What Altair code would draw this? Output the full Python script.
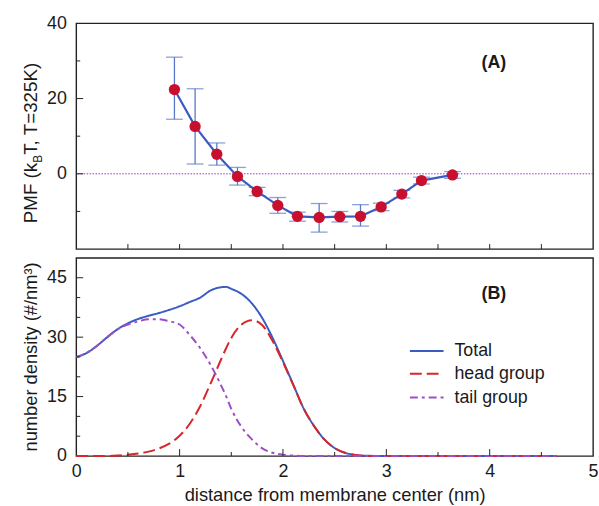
import altair as alt
import pandas as pd

FONT = "Liberation Sans"
TXT = "#1a1a1a"
BLUE = "#3a5cc0"
ERR = "#5b77c9"
RED = "#c8102e"
ZERO_PURPLE = "#9a30c8"
HEAD_RED = "#d8262a"
TAIL_PURPLE = "#9b4fc6"

# ---------------- Panel A: PMF ----------------
pmf_x = [0.95, 1.15, 1.36, 1.56, 1.75, 1.95, 2.14, 2.35, 2.55, 2.75, 2.95, 3.15, 3.34, 3.64]
pmf_y = [22.4, 12.6, 5.2, -0.7, -4.7, -8.4, -11.3, -11.6, -11.4, -11.3, -8.8, -5.4, -1.8, -0.3]
pmf_lo = [14.5, 2.6, 2.3, -3.0, -5.8, -10.5, -12.6, -15.5, -12.8, -13.9, -9.8, -6.4, -2.7, -1.2]
pmf_hi = [31.0, 22.6, 8.2, 1.7, -3.6, -6.3, -10.2, -7.9, -10.0, -8.2, -7.8, -4.4, -0.9, 0.6]

yA_labels = [0, 20, 40]
yA_major_ticks = [0, 20]
yA_minor_ticks = [-10, 10, 30]
x_half_ticks = [0.5, 1, 1.5, 2, 2.5, 3, 3.5, 4, 4.5]

# ---------------- Panel B: densities ----------------
dens_x = [0.0, 0.1, 0.2, 0.3, 0.4, 0.5, 0.6, 0.7, 0.8, 0.9, 1.0, 1.1, 1.2, 1.3, 1.4, 1.45,
          1.5, 1.6, 1.7, 1.8, 1.9, 2.0, 2.1, 2.2, 2.3, 2.4, 2.5, 2.6, 2.7, 2.8, 2.9, 3.0,
          3.5, 4.0, 4.65]
total = [25.0, 26.0, 27.8, 30.0, 32.0, 33.5, 34.6, 35.4, 36.1, 36.9, 37.8, 38.9, 40.0, 41.8, 42.6, 42.7,
         42.2, 40.9, 38.5, 34.8, 29.8, 24.0, 18.0, 12.0, 7.6, 4.2, 2.0, 0.8, 0.25, 0.05, 0.0, 0.0,
         0.0, 0.0, 0.0]
head = [0.0, 0.0, 0.0, 0.0, 0.1, 0.3, 0.6, 1.1, 1.9, 3.1, 5.1, 8.2, 12.6, 18.3, 24.3, 27.2,
        29.8, 33.2, 34.3, 33.0, 29.0, 23.7, 17.9, 12.0, 7.6, 4.2, 2.0, 0.8, 0.25, 0.05, 0.0, 0.0,
        0.0, 0.0, 0.0]
tail = [25.0, 26.0, 27.8, 30.0, 32.0, 33.2, 34.0, 34.5, 34.5, 34.0, 33.2, 30.5, 27.2, 23.0, 17.9, 15.1,
        11.9, 7.3, 4.2, 1.9, 0.8, 0.3, 0.1, 0.0, 0.0, 0.0, 0.0, 0.0, 0.0, 0.0, 0.0, 0.0,
        0.0, 0.0, 0.0]

yB_labels = [0, 15, 30, 45]
yB_major_ticks = [15, 30, 45]
yB_minor_ticks = [5, 10, 20, 25, 35, 40]
xB_labels = [0, 1, 2, 3, 4, 5]
xB_major_ticks = [1, 2, 3, 4]
xB_minor_ticks = [0.5, 1.5, 2.5, 3.5, 4.5]

series_names = ["Total", "head group", "tail group"]
series_colors = [BLUE, HEAD_RED, TAIL_PURPLE]
series_dash = [[1, 0], [12, 5], [8, 4, 3, 4]]

title_A_parts = ["PMF (k", "B", "T, T=325K)"]
title_B = "number density (#/nm\u00b3)"
x_title = "distance from membrane center (nm)"

W, HA, HB = 522, 228, 200

xs = alt.Scale(domain=[0, 5], nice=False, zero=False)
ysA = alt.Scale(domain=[-20, 40], nice=False, zero=False)
ysB = alt.Scale(domain=[0, 50], nice=False, zero=False)

axA_y = alt.Axis(values=yA_labels, title=None, ticks=False, tickSize=0, domain=False, grid=False,
                 labelFont=FONT, labelFontSize=18, labelColor=TXT, labelPadding=10, labelFlush=False)
axB_y = alt.Axis(values=yB_labels, title=None, ticks=False, tickSize=0, domain=False, grid=False,
                 labelFont=FONT, labelFontSize=18, labelColor=TXT, labelPadding=10, labelFlush=False)
axB_x = alt.Axis(values=xB_labels, title=x_title, ticks=False, tickSize=0, domain=False, grid=False,
                 labelFont=FONT, labelFontSize=18, labelColor=TXT, labelPadding=7, labelFlush=False,
                 titleFont=FONT, titleFontSize=18.5, titleFontWeight="normal", titleColor=TXT,
                 titlePadding=5, format="d")

dfA = pd.DataFrame({"x": pmf_x, "y": pmf_y, "lo": pmf_lo, "hi": pmf_hi})
XA = alt.X("x:Q", scale=xs, axis=None)

zero_line = alt.Chart(pd.DataFrame({"z": [0]})).mark_rule(
    color=ZERO_PURPLE, strokeDash=[1.5, 1.5], strokeWidth=1
).encode(y=alt.Y("z:Q", scale=ysA, axis=axA_y))

err_rule = alt.Chart(dfA).mark_rule(color=ERR, strokeWidth=1.3).encode(
    x=XA, y=alt.Y("lo:Q", scale=ysA, axis=axA_y), y2="hi:Q")
cap_lo = alt.Chart(dfA).mark_tick(orient="horizontal", size=17, thickness=1.3, color=ERR).encode(
    x=XA, y=alt.Y("lo:Q", scale=ysA, axis=axA_y))
cap_hi = alt.Chart(dfA).mark_tick(orient="horizontal", size=17, thickness=1.3, color=ERR).encode(
    x=XA, y=alt.Y("hi:Q", scale=ysA, axis=axA_y))
pmf_line = alt.Chart(dfA).mark_line(color=BLUE, strokeWidth=2.2).encode(
    x=XA, y=alt.Y("y:Q", scale=ysA, axis=axA_y))
pmf_pts = alt.Chart(dfA).mark_circle(size=130, color=RED, opacity=1).encode(
    x=XA, y=alt.Y("y:Q", scale=ysA, axis=axA_y))

def left_ticks(vals, scale, axis, length):
    return alt.Chart(pd.DataFrame({"v": vals})).mark_rule(color="#222", strokeWidth=1).encode(
        y=alt.Y("v:Q", scale=scale, axis=axis), x=alt.value(0), x2=alt.value(length))

def bottom_ticks(vals, axis, h, length):
    return alt.Chart(pd.DataFrame({"v": vals})).mark_rule(color="#222", strokeWidth=1).encode(
        x=alt.X("v:Q", scale=xs, axis=axis), y=alt.value(h), y2=alt.value(h - length))

# y title of panel A with subscript B
tA1 = alt.Chart(pd.DataFrame({"t": [title_A_parts[0]]})).mark_text(
    angle=270, align="left", baseline="alphabetic", font=FONT, fontSize=19, color=TXT
).encode(text="t:N", x=alt.value(-40), y=alt.value(202))
tA2 = alt.Chart(pd.DataFrame({"t": [title_A_parts[1]]})).mark_text(
    angle=270, align="left", baseline="alphabetic", font=FONT, fontSize=12, color=TXT
).encode(text="t:N", x=alt.value(-35), y=alt.value(202 - 61.2))
tA3 = alt.Chart(pd.DataFrame({"t": [title_A_parts[2]]})).mark_text(
    angle=270, align="left", baseline="alphabetic", font=FONT, fontSize=19, color=TXT
).encode(text="t:N", x=alt.value(-40), y=alt.value(202 - 61.2 - 8))

labA = alt.Chart(pd.DataFrame({"t": ["(A)"], "x": [4.04], "y": [29.5]})).mark_text(
    font=FONT, fontSize=18, fontWeight="bold", color=TXT, align="center", baseline="middle"
).encode(text="t:N", x=alt.X("x:Q", scale=xs, axis=None), y=alt.Y("y:Q", scale=ysA, axis=axA_y))

panelA = alt.layer(
    zero_line, err_rule, cap_lo, cap_hi, pmf_line, pmf_pts,
    left_ticks(yA_major_ticks, ysA, axA_y, 7), left_ticks(yA_minor_ticks, ysA, axA_y, 4),
    bottom_ticks(x_half_ticks, None, HA, 5),
    tA1, tA2, tA3, labA,
).properties(width=W, height=HA)

# ---------------- Panel B ----------------
dfB = pd.DataFrame({"x": dens_x, "Total": total, "head group": head, "tail group": tail})
XB = alt.X("x:Q", scale=xs, axis=axB_x)

lines = []
for name, col, dash in zip(series_names, series_colors, series_dash):
    lines.append(
        alt.Chart(dfB).mark_line(color=col, strokeDash=dash, strokeWidth=2, interpolate="monotone").encode(
            x=XB, y=alt.Y(f"{name}:Q", scale=ysB, axis=axB_y))
    )

leg_rows_y = [94, 117, 141]
legend_layers = []
for name, col, dash, yy in zip(series_names, series_colors, series_dash, leg_rows_y):
    legend_layers.append(
        alt.Chart(pd.DataFrame({"t": [name]})).mark_rule(color=col, strokeDash=dash, strokeWidth=2).encode(
            x=alt.value(337), x2=alt.value(371), y=alt.value(yy))
    )
    legend_layers.append(
        alt.Chart(pd.DataFrame({"t": [name]})).mark_text(
            font=FONT, fontSize=18, color=TXT, align="left", baseline="middle").encode(
            text="t:N", x=alt.value(382), y=alt.value(yy))
    )

tB = alt.Chart(pd.DataFrame({"t": [title_B]})).mark_text(
    angle=270, align="center", baseline="alphabetic", font=FONT, fontSize=18.5, color=TXT
).encode(text="t:N", x=alt.value(-40), y=alt.value(HB / 2))

labB = alt.Chart(pd.DataFrame({"t": ["(B)"], "x": [4.04], "y": [41]})).mark_text(
    font=FONT, fontSize=18, fontWeight="bold", color=TXT, align="center", baseline="middle"
).encode(text="t:N", x=alt.X("x:Q", scale=xs, axis=axB_x), y=alt.Y("y:Q", scale=ysB, axis=axB_y))

panelB = alt.layer(
    *lines,
    left_ticks(yB_major_ticks, ysB, axB_y, 7), left_ticks(yB_minor_ticks, ysB, axB_y, 4),
    bottom_ticks(xB_major_ticks, axB_x, HB, 7), bottom_ticks(xB_minor_ticks, axB_x, HB, 4),
    *legend_layers, tB, labB,
).properties(width=W, height=HB)

chart = alt.vconcat(panelA, panelB, spacing=6).properties(
    padding={"left": 21, "top": 11, "right": 0, "bottom": 0},
    background="white",
).configure_view(stroke="#222", strokeWidth=1.4)

chart.save("out.html", embed_options={"renderer": "svg", "actions": False})
